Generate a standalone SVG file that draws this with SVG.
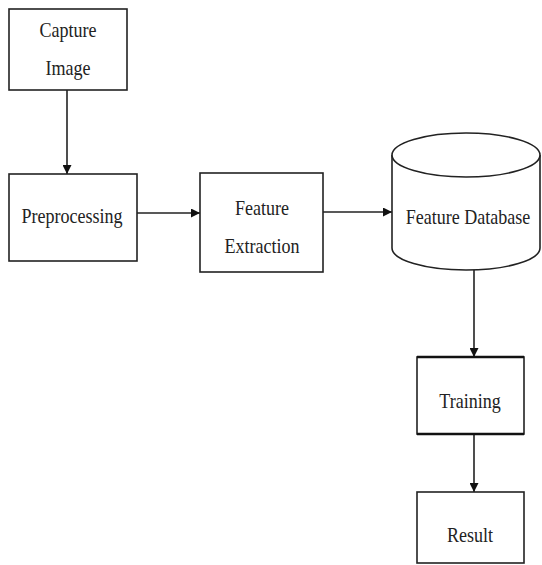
<svg xmlns="http://www.w3.org/2000/svg" width="542" height="565" viewBox="0 0 542 565">
<style>
.box{fill:#fff;stroke:#222;stroke-width:1.6}
.lbl{font-family:"Liberation Serif","Times New Roman",serif;font-size:20.5px;fill:#222;text-anchor:middle}
.con{stroke:#222;stroke-width:1.6;fill:none;marker-end:url(#ah)}
</style>
<defs>
<marker id="ah" viewBox="0 0 10 10" refX="10" refY="5" markerWidth="9" markerHeight="9" markerUnits="userSpaceOnUse" orient="auto">
<path d="M0,0 L10,5 L0,10 Z" fill="#111"/>
</marker>
</defs>
<rect width="542" height="565" fill="#fff"/>
<g id="connectors">
<line class="con" x1="67" y1="90" x2="67" y2="174"/>
<line class="con" x1="137" y1="213" x2="200" y2="213"/>
<line class="con" x1="323" y1="212" x2="392" y2="212"/>
<line class="con" x1="474" y1="270" x2="474" y2="357"/>
<line class="con" x1="474" y1="434" x2="474" y2="492"/>
</g>
<g id="capture">
<rect class="box" x="9" y="9" width="118" height="81"/>
<text class="lbl" transform="translate(68,37) scale(0.88,1)">Capture</text>
<text class="lbl" transform="translate(68,75) scale(0.88,1)">Image</text>
</g>
<g id="preprocessing">
<rect class="box" x="9" y="174" width="128" height="87"/>
<text class="lbl" transform="translate(72,223) scale(0.88,1)">Preprocessing</text>
</g>
<g id="extraction">
<rect class="box" x="200" y="173" width="123" height="99"/>
<text class="lbl" transform="translate(262,215) scale(0.88,1)">Feature</text>
<text class="lbl" transform="translate(262,253) scale(0.88,1)">Extraction</text>
</g>
<g id="database">
<path class="box" d="M392,155 L392,248 A74,22 0 0 0 540,248 L540,155"/>
<ellipse class="box" cx="466" cy="155" rx="74" ry="22"/>
<text class="lbl" transform="translate(468,224) scale(0.88,1)">Feature Database</text>
</g>
<g id="training">
<rect class="box" x="417" y="357" width="107" height="77"/>
<line x1="417" y1="357" x2="524" y2="357" stroke="#111" stroke-width="2.6"/>
<line x1="417" y1="434" x2="524" y2="434" stroke="#111" stroke-width="2.6"/>
<text class="lbl" transform="translate(470,408) scale(0.88,1)">Training</text>
</g>
<g id="result">
<rect class="box" x="417" y="492" width="107" height="71"/>
<text class="lbl" transform="translate(470,542) scale(0.88,1)">Result</text>
</g>
</svg>
